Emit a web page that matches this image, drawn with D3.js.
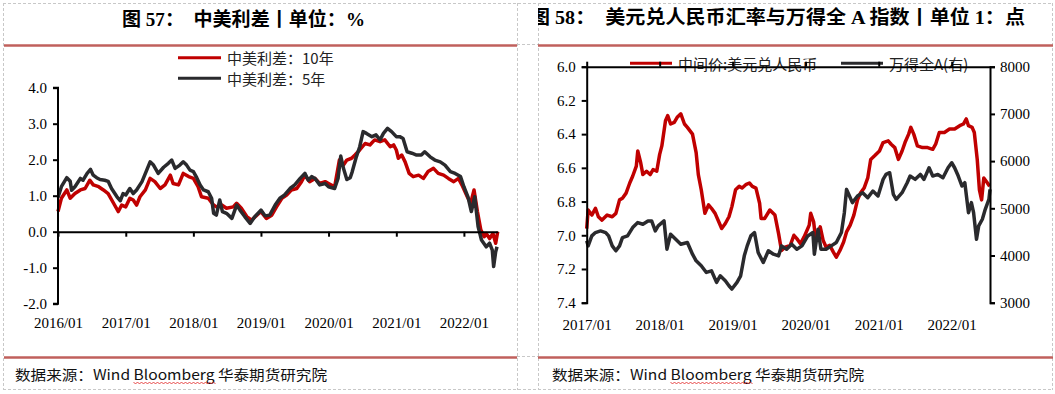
<!DOCTYPE html>
<html><head><meta charset="utf-8">
<script src="https://cdn.jsdelivr.net/npm/d3@7"></script>
<style>
html,body{margin:0;padding:0;background:#fff;}
svg{display:block;}
.tick text{font-family:"Liberation Serif","Times New Roman",serif;font-size:15px;fill:#000;}
</style></head>
<body>
<svg id="c" width="1055" height="394"></svg>
<script>
// ---------------- DATA ----------------
const leftTitle = "图 57：  中美利差丨单位：%";
const rightTitle = "图 58：  美元兑人民币汇率与万得全 A 指数丨单位 1：点";
const footerText = "数据来源：Wind Bloomberg 华泰期货研究院";
const leftSeriesNames = ["中美利差：10年", "中美利差：5年"];
const rightSeriesNames = ["中间价:美元兑人民币", "万得全A(右)"];
const leftYTicks = [-2, -1, 0, 1, 2, 3, 4];
const rightYTicksL = [6.0, 6.2, 6.4, 6.6, 6.8, 7.0, 7.2, 7.4];
const rightYTicksR = [3000, 4000, 5000, 6000, 7000, 8000];

// 中美利差 10年 (decimal year, %)
const spread10Dates = [2016.00,2016.05,2016.13,2016.18,2016.25,2016.33,2016.40,2016.47,2016.52,2016.60,2016.67,2016.74,2016.82,2016.89,2016.94,
 2017.00,2017.06,2017.11,2017.16,2017.21,2017.29,2017.36,2017.43,2017.51,2017.58,2017.66,2017.70,2017.78,2017.85,2017.93,
 2018.00,2018.07,2018.12,2018.22,2018.30,2018.34,2018.42,2018.49,2018.59,2018.64,2018.71,2018.79,2018.86,2018.94,
 2019.00,2019.08,2019.16,2019.23,2019.31,2019.38,2019.45,2019.53,2019.60,2019.65,2019.72,2019.80,2019.87,2019.95,
 2020.00,2020.09,2020.16,2020.22,2020.27,2020.34,2020.39,2020.46,2020.54,2020.61,2020.68,2020.76,2020.83,2020.91,2020.96,
 2021.00,2021.03,2021.08,2021.13,2021.19,2021.25,2021.33,2021.40,2021.47,2021.55,2021.62,2021.70,2021.77,2021.85,2021.92,2021.97,
 2022.05,2022.10,2022.15,2022.20,2022.25,2022.30,2022.33,2022.38,2022.43,2022.47,2022.50];
const spread10 = [0.56,0.93,1.16,0.93,1.06,1.16,1.20,1.43,1.30,1.25,1.16,1.06,0.79,0.56,0.74,
 0.69,0.93,0.88,0.74,0.97,1.16,1.48,1.39,1.20,1.30,1.57,1.34,1.30,1.62,1.53,
 1.48,1.25,0.97,0.93,0.74,0.69,0.74,0.65,0.69,0.79,0.65,0.42,0.32,0.46,
 0.56,0.37,0.46,0.69,0.93,1.02,1.16,1.20,1.39,1.57,1.39,1.48,1.34,1.39,
 1.34,1.25,1.99,1.85,1.99,2.04,2.13,2.27,2.45,2.41,2.55,2.50,2.55,2.36,2.41,
 2.27,2.04,2.13,1.94,1.62,1.53,1.57,1.48,1.67,1.76,1.62,1.57,1.48,1.39,1.48,1.30,
 0.97,0.79,1.16,0.56,0.05,-0.14,-0.05,-0.19,-0.05,-0.32,0.00];

// 中美利差 5年
const spread5Dates = [2016.00,2016.05,2016.13,2016.18,2016.20,2016.25,2016.33,2016.37,2016.43,2016.48,2016.52,2016.57,2016.62,2016.69,2016.74,2016.79,2016.87,2016.92,2016.96,
 2017.00,2017.06,2017.11,2017.16,2017.24,2017.31,2017.36,2017.41,2017.48,2017.56,2017.63,2017.68,2017.73,2017.80,2017.85,2017.90,2017.95,
 2018.00,2018.05,2018.10,2018.15,2018.22,2018.27,2018.30,2018.34,2018.39,2018.43,2018.49,2018.57,2018.64,2018.69,2018.76,2018.84,2018.91,
 2019.00,2019.06,2019.13,2019.21,2019.28,2019.35,2019.43,2019.50,2019.58,2019.65,2019.70,2019.75,2019.80,2019.87,2019.95,
 2020.00,2020.09,2020.14,2020.18,2020.22,2020.27,2020.32,2020.35,2020.41,2020.46,2020.51,2020.56,2020.64,2020.70,2020.76,2020.81,2020.87,2020.93,
 2021.00,2021.05,2021.10,2021.16,2021.23,2021.30,2021.37,2021.42,2021.50,2021.57,2021.65,2021.72,2021.80,2021.87,2021.95,
 2022.00,2022.06,2022.11,2022.16,2022.21,2022.26,2022.33,2022.38,2022.42,2022.44,2022.47,2022.49];
const spread5 = [0.95,1.25,1.50,1.40,1.15,1.25,1.48,1.43,1.62,1.73,1.57,1.50,1.45,1.43,1.40,1.20,0.97,0.86,1.06,
 1.02,1.20,1.06,1.16,1.39,1.71,1.94,1.85,1.62,1.79,1.90,1.99,1.76,1.85,1.94,1.85,1.71,
 1.67,1.50,1.30,1.16,1.11,0.93,0.51,0.46,0.88,0.56,0.51,0.37,0.74,0.60,0.42,0.23,0.42,
 0.60,0.44,0.46,0.74,0.93,1.02,1.20,1.30,1.48,1.62,1.43,1.53,1.48,1.30,1.34,
 1.25,1.20,1.48,2.10,1.76,1.45,1.50,1.67,2.08,2.36,2.78,2.73,2.64,2.69,2.55,2.73,2.87,2.78,
 2.64,2.64,2.59,2.22,2.18,2.13,2.13,2.22,2.08,1.99,1.94,1.85,1.67,1.62,1.53,
 1.25,0.97,0.56,0.97,0.14,-0.23,-0.42,-0.32,-0.51,-0.97,-0.56,-0.42];

// 中间价:美元兑人民币
const cnyDates = [2017.00,2017.02,2017.07,2017.12,2017.16,2017.21,2017.28,2017.35,2017.40,2017.45,2017.49,2017.54,2017.59,2017.63,2017.68,2017.70,2017.74,2017.77,2017.82,2017.87,2017.91,2017.96,
 2018.00,2018.03,2018.08,2018.11,2018.15,2018.20,2018.24,2018.29,2018.34,2018.38,2018.45,2018.50,2018.53,2018.57,2018.62,2018.67,2018.71,2018.76,2018.81,2018.85,2018.90,2018.95,2018.99,
 2019.04,2019.09,2019.13,2019.18,2019.23,2019.27,2019.32,2019.37,2019.39,2019.44,2019.51,2019.58,2019.63,2019.67,2019.72,2019.79,2019.84,2019.88,2019.93,2019.98,
 2020.05,2020.07,2020.11,2020.14,2020.20,2020.24,2020.28,2020.33,2020.38,2020.42,2020.47,2020.52,2020.56,2020.61,2020.66,2020.71,2020.75,2020.80,2020.85,2020.89,2020.94,
 2021.01,2021.06,2021.13,2021.17,2021.22,2021.27,2021.32,2021.36,2021.41,2021.44,2021.48,2021.53,2021.60,2021.67,2021.74,2021.78,2021.83,2021.90,2021.97,
 2022.04,2022.11,2022.16,2022.20,2022.23,2022.28,2022.31,2022.35,2022.38,2022.41,2022.44,2022.49,2022.52];
const cny = [6.96,6.85,6.88,6.84,6.89,6.91,6.88,6.89,6.87,6.79,6.78,6.75,6.69,6.65,6.59,6.50,6.57,6.64,6.62,6.64,6.61,6.62,
 6.52,6.47,6.32,6.29,6.34,6.33,6.30,6.28,6.34,6.36,6.40,6.51,6.64,6.73,6.87,6.82,6.84,6.87,6.92,6.96,6.93,6.89,6.83,
 6.73,6.71,6.72,6.70,6.69,6.71,6.72,6.81,6.90,6.90,6.85,6.88,6.99,7.09,7.07,7.06,7.00,7.02,7.05,7.01,
 6.94,6.87,6.92,7.03,6.95,7.03,7.07,7.06,7.10,7.13,7.09,7.04,6.98,6.94,6.88,6.79,6.75,6.72,6.66,6.55,6.53,
 6.50,6.45,6.44,6.46,6.48,6.55,6.50,6.45,6.40,6.36,6.40,6.47,6.48,6.48,6.49,6.46,6.39,6.39,6.37,
 6.37,6.35,6.34,6.31,6.35,6.36,6.39,6.55,6.73,6.79,6.66,6.69,6.71];

// 万得全A
const windDates = [2017.00,2017.02,2017.07,2017.12,2017.19,2017.26,2017.30,2017.35,2017.40,2017.45,2017.49,2017.56,2017.63,2017.70,2017.77,2017.84,2017.89,2017.94,2017.98,
 2018.06,2018.10,2018.15,2018.22,2018.29,2018.38,2018.45,2018.50,2018.57,2018.64,2018.71,2018.78,2018.83,2018.90,2018.95,2018.99,
 2019.06,2019.11,2019.16,2019.20,2019.25,2019.30,2019.35,2019.42,2019.49,2019.56,2019.63,2019.67,2019.74,2019.81,2019.88,2019.95,
 2020.03,2020.10,2020.12,2020.17,2020.21,2020.28,2020.35,2020.42,2020.49,2020.53,2020.56,2020.60,2020.64,2020.71,2020.78,2020.85,2020.92,2020.99,
 2021.06,2021.10,2021.15,2021.20,2021.24,2021.32,2021.39,2021.43,2021.50,2021.57,2021.62,2021.69,2021.74,2021.81,2021.88,2021.95,
 2022.00,2022.04,2022.09,2022.14,2022.18,2022.23,2022.27,2022.30,2022.34,2022.37,2022.42,2022.46,2022.51,2022.525];
const windA = [4310,4204,4415,4486,4521,4486,4415,4204,4099,4204,4380,4415,4592,4697,4662,4732,4732,4521,4627,
 4732,4134,4451,4345,4239,4275,4028,3887,3782,3641,3676,3430,3570,3465,3359,3289,
 3430,3570,3993,4204,4415,4486,4063,3852,4099,4028,3993,4204,4134,4239,4134,4204,
 4415,4486,4028,4556,4134,4134,4204,4275,4486,4908,5401,5261,5120,5261,5331,5225,5366,5261,
 5613,5718,5754,5296,5190,5331,5542,5683,5613,5718,5613,5859,5683,5718,5648,5859,
 5965,5859,5683,5472,5542,4908,5120,4908,4345,4627,4768,4979,5190,5401];

// ---------------- HELPERS ----------------
function dy(v){ const y=Math.floor(v), f=v-y; const s=new Date(y,0,1), e=new Date(y+1,0,1); return new Date(+s + f*(e-s)); }
const RED = "#C00000", DARK = "#2A2A2D", SEP = "#C0605C", GRID = "#C8C8C8";
const CJK = "'Noto Sans CJK SC','Noto Sans',sans-serif";
const TITLEF = "'Liberation Serif','Noto Sans CJK SC',serif";
const LW = 3.5;
const svg = d3.select("#c");

// ---------------- FRAME ----------------
const frame = svg.append("g");
function dash(x1,y1,x2,y2){ frame.append("line").attr("x1",x1).attr("y1",y1).attr("x2",x2).attr("y2",y2)
  .attr("stroke",GRID).attr("stroke-width",1).attr("stroke-dasharray","3,2"); }
dash(3,3.5,1053,3.5); dash(3,389.5,1053,389.5);
dash(3.5,3,3.5,390); dash(517.5,3,517.5,390); dash(538.5,3,538.5,390); dash(1052.5,3,1052.5,390);
dash(517,44.5,538,44.5); dash(517,356.5,538,356.5);
[[4,517],[538,1053]].forEach(([a,b])=>{
  frame.append("line").attr("x1",a).attr("x2",b).attr("y1",45.5).attr("y2",45.5).attr("stroke",SEP).attr("stroke-width",2.5);
  frame.append("line").attr("x1",a).attr("x2",b).attr("y1",357.5).attr("y2",357.5).attr("stroke",SEP).attr("stroke-width",2.5);
});

// titles
svg.append("text").attr("x",122).attr("y",19).attr("dominant-baseline","central")
  .attr("font-family",TITLEF).attr("font-weight","bold").attr("font-size",19)
  .attr("textLength",243).attr("lengthAdjust","spacingAndGlyphs").attr("xml:space","preserve").text(leftTitle);
svg.append("clipPath").attr("id","rclip").append("rect").attr("x",538).attr("y",0).attr("width",520).attr("height",44);
svg.append("text").attr("x",530).attr("y",17).attr("dominant-baseline","central").attr("clip-path","url(#rclip)")
  .attr("font-family",TITLEF).attr("font-weight","bold").attr("font-size",19)
  .attr("textLength",495).attr("lengthAdjust","spacingAndGlyphs").attr("xml:space","preserve").text(rightTitle);

// footers
[[15,312],[552,312]].forEach(([x,w])=>{
  const t = svg.append("text").attr("x",x).attr("y",374).attr("dominant-baseline","central")
    .attr("font-family",CJK).attr("font-size",14).attr("fill","#111")
    .attr("textLength",w).attr("lengthAdjust","spacingAndGlyphs").text(footerText);
  const n = t.node();
  const i0 = footerText.indexOf("Bloomberg"), i1 = i0 + "Bloomberg".length - 1;
  const xs = n.getStartPositionOfChar(i0).x, xe = n.getEndPositionOfChar(i1).x;
  let d = "M"+xs+",382"; for(let xx=xs, k=0; xx<xe; xx+=2, k++){ d += "L"+(xx+2)+","+(k%2?382:384); }
  svg.append("path").attr("d",d).attr("fill","none").attr("stroke","#E02020").attr("stroke-width",0.8);
});

// ---------------- LEFT CHART ----------------
const xL = d3.scaleTime().domain([dy(2016.0), dy(2022.5)]).range([58, 497.7]);
const yL = d3.scaleLinear().domain([-2, 4]).range([303.7, 87.7]);
const gL = svg.append("g");
const lineL = d3.line().x(d=>xL(d[0])).y(d=>yL(d[1]));
const s10 = spread10Dates.map((d,i)=>[dy(d), spread10[i]]);
const s5 = spread5Dates.map((d,i)=>[dy(d), spread5[i]]);
gL.append("path").datum(s10).attr("d",lineL).attr("fill","none").attr("stroke",RED).attr("stroke-width",LW).attr("stroke-linejoin","round");
gL.append("path").datum(s5).attr("d",lineL).attr("fill","none").attr("stroke",DARK).attr("stroke-width",LW).attr("stroke-linejoin","round");

const yearTicksL = d3.timeYear.range(dy(2016.0), dy(2022.5), 1);
const fmtY = d3.timeFormat("%Y/%m");
gL.append("g").attr("transform","translate(58,0)")
  .call(d3.axisLeft(yL).tickValues(leftYTicks).tickSize(5).tickPadding(6).tickFormat(d=>d.toFixed(1)))
  .call(g=>g.selectAll("path,line").attr("stroke","#000").attr("stroke-width",2));
gL.selectAll(".domain").attr("d","M-5,"+yL(4)+"H0V"+yL(-2)+"H-5");
gL.append("g").attr("transform","translate(0,"+yL(0)+")")
  .call(d3.axisBottom(xL).tickValues(yearTicksL).tickSize(5).tickSizeOuter(0).tickFormat(""))
  .call(g=>g.selectAll("path,line").attr("stroke","#000").attr("stroke-width",2));
gL.append("g").attr("transform","translate(0,317)")
  .call(d3.axisBottom(xL).tickValues(yearTicksL).tickSize(0).tickPadding(0).tickFormat(fmtY))
  .call(g=>g.select(".domain").remove());

// left legend
const legL = svg.append("g");
leftSeriesNames.forEach((name,i)=>{
  const y = [57.7, 78.3][i];
  legL.append("line").attr("x1",178).attr("x2",221).attr("y1",y).attr("y2",y).attr("stroke",[RED,DARK][i]).attr("stroke-width",3);
  legL.append("text").attr("x",227).attr("y",y).attr("dominant-baseline","central").attr("font-family",CJK).attr("font-size",15).attr("fill","#222")
    .attr("xml:space","preserve").text(name);
});

// ---------------- RIGHT CHART ----------------
const xR = d3.scaleTime().domain([dy(2017.0), dy(2022.525)]).range([586.7, 990]);
const yR1 = d3.scaleLinear().domain([6.0, 7.4]).range([66.7, 302.7]);
const yR2 = d3.scaleLinear().domain([3000, 8000]).range([302.7, 66.7]);
const gR = svg.append("g");

// right legend (drawn under axis line)
const legR = gR.append("g");
rightSeriesNames.forEach((name,i)=>{
  const x0 = [630, 841][i];
  legR.append("line").attr("x1",x0).attr("x2",x0+42).attr("y1",63.3).attr("y2",63.3).attr("stroke",[RED,DARK][i]).attr("stroke-width",3);
  legR.append("text").attr("x",x0+48).attr("y",63.3).attr("dominant-baseline","central").attr("font-family",CJK).attr("font-size",15).attr("fill","#222").text(name);
});

const cnyPts = cnyDates.map((d,i)=>[dy(d), cny[i]]);
const windPts = windDates.map((d,i)=>[dy(d), windA[i]]);
gR.append("path").datum(cnyPts).attr("d",d3.line().x(d=>xR(d[0])).y(d=>yR1(d[1])))
  .attr("fill","none").attr("stroke",RED).attr("stroke-width",LW).attr("stroke-linejoin","round");
gR.append("path").datum(windPts).attr("d",d3.line().x(d=>xR(d[0])).y(d=>yR2(d[1])))
  .attr("fill","none").attr("stroke",DARK).attr("stroke-width",LW).attr("stroke-linejoin","round");

const yearTicksR = d3.timeYear.range(dy(2017.0), dy(2022.525), 1);
const axStyle = g=>g.selectAll("path,line").attr("stroke","#000").attr("stroke-width",2);
gR.append("g").attr("transform","translate(586.7,0)")
  .call(d3.axisLeft(yR1).tickValues(rightYTicksL).tickSize(5).tickPadding(6).tickFormat(d=>d.toFixed(1))).call(axStyle);
gR.append("g").attr("transform","translate(990,0)")
  .call(d3.axisRight(yR2).tickValues(rightYTicksR).tickSize(5).tickPadding(5).tickFormat(d3.format("d"))).call(axStyle);
gR.append("g").attr("transform","translate(0,66.7)")
  .call(d3.axisTop(xR).tickValues(yearTicksR).tickSize(5).tickSizeOuter(0).tickFormat("")).call(axStyle);
gR.append("g").attr("transform","translate(0,319)")
  .call(d3.axisBottom(xR).tickValues(yearTicksR).tickSize(0).tickPadding(0).tickFormat(fmtY))
  .call(g=>g.select(".domain").remove());
</script>
</body></html>
